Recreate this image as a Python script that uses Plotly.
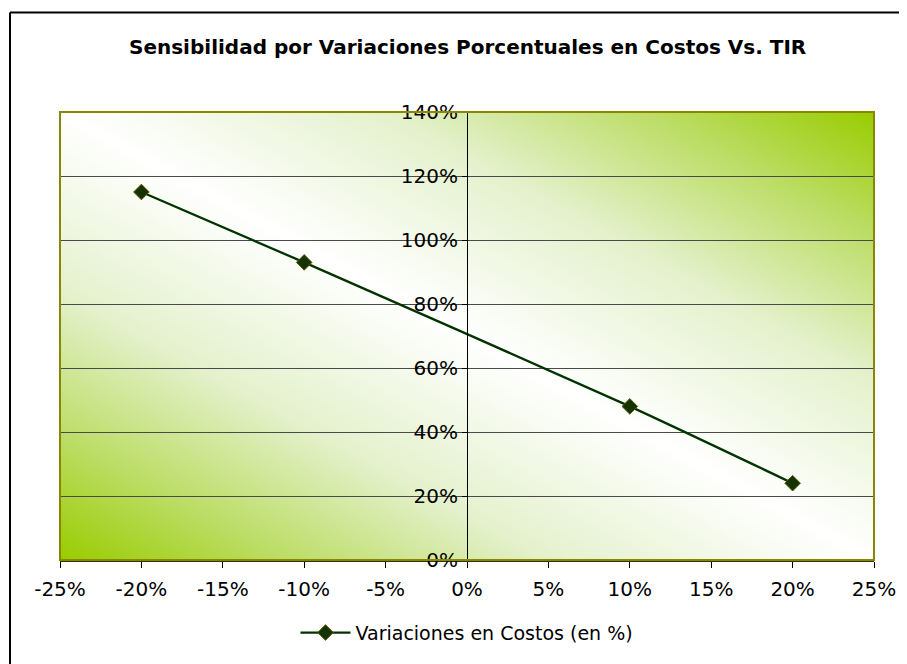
import base64
import plotly.graph_objects as go

# Data
variacion = [-0.20, -0.10, 0.10, 0.20]
tir = [1.15, 0.93, 0.48, 0.24]
series_name = "Variaciones en Costos (en %)"
title_text = "Sensibilidad por Variaciones Porcentuales en Costos Vs. TIR"
x_ticks = [-0.25, -0.20, -0.15, -0.10, -0.05, 0.0, 0.05, 0.10, 0.15, 0.20, 0.25]
x_labels = ["-25%", "-20%", "-15%", "-10%", "-5%", "0%", "5%", "10%", "15%", "20%", "25%"]
y_ticks = [0, 0.2, 0.4, 0.6, 0.8, 1.0, 1.2, 1.4]
y_labels = ["0%", "20%", "40%", "60%", "80%", "100%", "120%", "140%"]

OFF = 8  # page body margin
W, H = 907 - OFF, 664 - OFF
ML, MT = 60 - OFF, 112 - OFF
MR = W - (874 - OFF)
MB = H - (562 - OFF)
PW, PH = W - ML - MR, H - MT - MB


def px_x(p):
    return (p - OFF - ML) / PW


def px_y(p):
    return (H - MB - (p - OFF)) / PH


svg = ("<svg xmlns='http://www.w3.org/2000/svg' width='100' height='100' viewBox='0 0 100 100' "
       "preserveAspectRatio='none'><defs><linearGradient id='g' x1='0' y1='1' x2='1' y2='0'>"
       "<stop offset='0' stop-color='#99CC00'/>"
       "<stop offset='0.14' stop-color='#bcdd66'/>"
       "<stop offset='0.3' stop-color='#e4f1cc'/>"
       "<stop offset='0.5' stop-color='#FFFFFF'/>"
       "<stop offset='0.7' stop-color='#e4f1cc'/>"
       "<stop offset='0.86' stop-color='#bcdd66'/>"
       "<stop offset='1' stop-color='#99CC00'/></linearGradient></defs>"
       "<rect width='100' height='100' fill='url(#g)'/></svg>")
src = "data:image/svg+xml;base64," + base64.b64encode(svg.encode()).decode()

fig = go.Figure()
fig.add_trace(go.Scatter(
    x=variacion, y=tir, name=series_name, mode="lines+markers",
    line=dict(color="#003300", width=2.3, shape="spline", smoothing=0.6),
    marker=dict(symbol="diamond", size=12, color="#143300",
                line=dict(color="#5a5a00", width=1)),
))

fig.update_layout(
    width=W, height=H,
    margin=dict(l=ML, r=MR, t=MT, b=MB, pad=0),
    paper_bgcolor="white",
    plot_bgcolor="rgba(0,0,0,0)",
    font=dict(family="DejaVu Sans", size=20, color="black"),
    showlegend=True,
    legend=dict(orientation="h", x=0.5, xanchor="center", y=px_y(635), yanchor="middle",
                font=dict(family="DejaVu Sans", size=19, color="black"),
                itemwidth=50, bgcolor="rgba(0,0,0,0)"),
    xaxis=dict(range=[-0.25, 0.25], domain=[0, 1], tickvals=x_ticks, ticktext=x_labels,
               ticks="outside", ticklen=6, tickcolor="black", tickwidth=1,
               ticklabelstandoff=4,
               showgrid=False, zeroline=False, showline=True, linecolor="#333300",
               linewidth=2, fixedrange=True),
    yaxis=dict(range=[0, 1.4], tickvals=y_ticks, ticktext=y_labels, anchor="free",
               position=0.5, ticks="outside", ticklen=5, tickcolor="black",
               showgrid=True, gridcolor="#4a4a4a", gridwidth=1.4, zeroline=False,
               showline=True, linecolor="black", linewidth=1, fixedrange=True),
    images=[dict(source=src, xref="paper", yref="paper", x=0, y=1, sizex=1, sizey=1,
                 sizing="stretch", xanchor="left", yanchor="top", layer="below")],
    shapes=[
        dict(type="rect", xref="paper", yref="paper", x0=0, y0=0, x1=1, y1=1,
             line=dict(color="#888800", width=2), layer="above"),
        dict(type="line", xref="paper", yref="paper", x0=px_x(10), y0=px_y(12),
             x1=px_x(920), y1=px_y(12), line=dict(color="black", width=2)),
        dict(type="line", xref="paper", yref="paper", x0=px_x(10), y0=px_y(12),
             x1=px_x(10), y1=px_y(680), line=dict(color="black", width=2)),
    ],
    annotations=[dict(text="<b>" + title_text + "</b>", xref="paper", yref="paper",
                      x=0.5, y=px_y(47), xanchor="center", yanchor="middle",
                      showarrow=False, font=dict(family="DejaVu Sans", size=20, color="black"))],
)

fig.write_html("out.html")
